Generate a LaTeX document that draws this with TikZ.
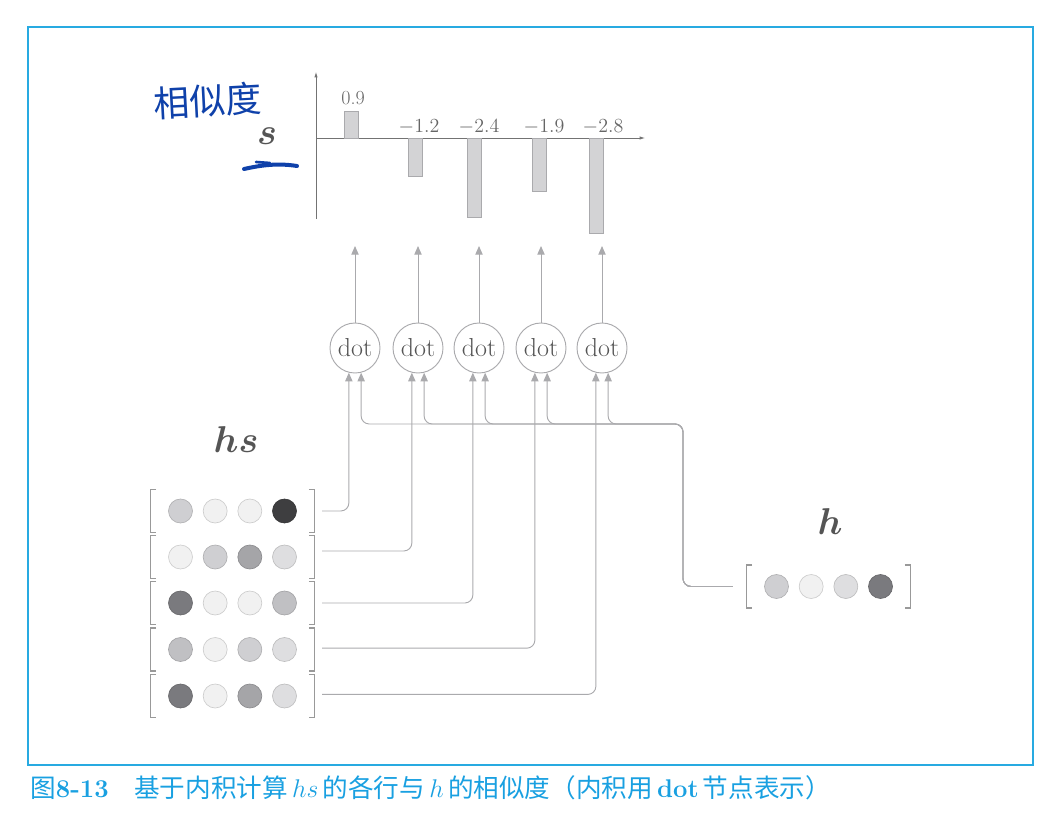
\RequirePackage{fix-cm}
\documentclass[tikz,border=0pt]{standalone}
\usepackage{fontspec}
\usepackage{bm}
\newfontfamily\cjk{Noto Sans CJK SC}
\usetikzlibrary{arrows.meta}
\definecolor{frame}{RGB}{40,170,225}
\definecolor{cap}{RGB}{25,160,225}
\definecolor{ln}{RGB}{170,170,173}
\definecolor{txt}{RGB}{85,85,85}
\definecolor{hand}{RGB}{15,65,170}
\definecolor{ca}{RGB}{241,241,241}
\definecolor{cb}{RGB}{222,222,224}
\definecolor{cc}{RGB}{207,207,210}
\definecolor{cd}{RGB}{192,192,195}
\definecolor{ce}{RGB}{165,165,168}
\definecolor{cf}{RGB}{122,122,126}
\definecolor{cg}{RGB}{62,62,64}
\begin{document}
\begin{tikzpicture}[x=0.75pt,y=-0.75pt,
  conn/.style={draw=ln, line width=0.7pt, rounded corners=6pt},
  arr/.style={conn, -{Triangle[length=6.5pt,width=5.5pt]}},
  dotnode/.style={circle, draw=ln, line width=0.7pt, minimum size=37.5pt, inner sep=0pt, font=\fontsize{19.5}{22}\selectfont, text=txt},
  cell/.style={circle, minimum size=18pt, inner sep=0pt, line width=0.5pt},
  vecbox/.style={minimum width=123pt, minimum height=32pt, inner sep=0pt},
  brk/.style={draw=black!40, line width=1pt},
  bar/.style={fill=cb!95!black, draw=ln, line width=0.6pt},
  axis/.style={draw=black!55, line width=0.5pt, -{Latex[length=4pt,width=2.5pt]}},
  val/.style={font=\fontsize{15}{17}\selectfont, text=black!60},
  big/.style={font=\fontsize{28}{32}\selectfont, text=txt}
]
\useasboundingbox (0,0) rectangle (1056,817);
\draw[frame, line width=0.8pt] (28,27) rectangle (1033,765);

% handwritten annotation
\node[font=\cjk\fontsize{27}{30}\selectfont, text=hand, rotate=3] (hw) at (208,101) {相似度};
\draw[hand, line width=3pt, line cap=round] (244,169) .. controls (262,165) and (278,163) .. (297,166);
\draw[hand, line width=2pt, line cap=round] (256,162) -- (270,163);

% bar chart
\draw[axis] (316,219) -- (316,72);
\draw[axis] (316,138) -- (645,138);
\draw[bar] (344,111) rectangle (358,138);
\draw[bar] (408,138) rectangle (422,176);
\draw[bar] (467,138) rectangle (481,217);
\draw[bar] (532,138) rectangle (546,191);
\draw[bar] (589,138) rectangle (603,233);
\node[val] (v1) at (353,98) {0.9};
\node[val] (v2) at (419,127) {$-1.2$};
\node[val] (v3) at (479,127) {$-2.4$};
\node[val] (v4) at (544,127) {$-1.9$};
\node[val] (v5) at (603,127) {$-2.8$};
\node[big] (s) at (267,136) {$\bm{s}$};

% dot nodes
\foreach \i/\x in {1/355,2/418,3/479,4/541,5/602}{
  \node[dotnode] (d\i) at (\x,348) {dot};
  \coordinate (t\i) at (\x,246);
  \draw[arr] (d\i) -- (t\i);
}

% hs matrix
\node[big] (hs) at (236,440) {$\bm{hs}$};
\foreach \i/\y/\a/\b/\c/\d in {1/511/cc/ca/ca/cg,2/557/ca/cc/ce/cb,3/603/cf/ca/ca/cd,4/649.5/cd/ca/cc/cb,5/696/cf/ca/ce/cb}{
  \node[vecbox] (r\i) at (232.5,\y) {};
  \draw[brk] ([xshift=4.5pt]r\i.north west) -- (r\i.north west) -- (r\i.south west) -- ([xshift=4.5pt]r\i.south west);
  \draw[brk] ([xshift=-4.5pt]r\i.north east) -- (r\i.north east) -- (r\i.south east) -- ([xshift=-4.5pt]r\i.south east);
  \node[cell, fill=\a, draw=\a!85!black] (r\i-1) at ([xshift=-39pt]r\i.center) {};
  \node[cell, fill=\b, draw=\b!85!black] (r\i-2) at ([xshift=-13pt]r\i.center) {};
  \node[cell, fill=\c, draw=\c!85!black] (r\i-3) at ([xshift=13pt]r\i.center) {};
  \node[cell, fill=\d, draw=\d!85!black] (r\i-4) at ([xshift=39pt]r\i.center) {};
}
\draw[arr] ([xshift=5.5pt]r1.east) -| (d1.256);
\draw[arr] ([xshift=5.5pt,yshift=4.5pt]r2.east) -| (d2.256);
\draw[arr] ([xshift=5.5pt]r3.east) -| (d3.256);
\draw[arr] ([xshift=5.5pt,yshift=1pt]r4.east) -| (d4.256);
\draw[arr] ([xshift=5.5pt,yshift=1.2pt]r5.east) -| (d5.256);

% h vector
\node[big] (hl) at (830,522) {$\bm{h}$};
\node[vecbox] (hv) at (828.5,586.5) {};
\draw[brk] ([xshift=4.5pt]hv.north west) -- (hv.north west) -- (hv.south west) -- ([xshift=4.5pt]hv.south west);
\draw[brk] ([xshift=-4.5pt]hv.north east) -- (hv.north east) -- (hv.south east) -- ([xshift=-4.5pt]hv.south east);
\node[cell, fill=cc, draw=cc!85!black] (h1) at ([xshift=-39pt]hv.center) {};
\node[cell, fill=ca, draw=ca!85!black] (h2) at ([xshift=-13pt]hv.center) {};
\node[cell, fill=cb, draw=cb!85!black] (h3) at ([xshift=13pt]hv.center) {};
\node[cell, fill=cf, draw=cf!85!black] (h4) at ([xshift=39pt]hv.center) {};
\coordinate (hb) at (683,424);
\foreach \i in {1,...,5}{
  \draw[arr] ([xshift=-10pt]hv.west) -| (hb) -| (d\i.284);
}

% caption
\node[anchor=base west, text=cap, inner sep=0pt, font=\cjk\fontsize{19.2}{21}\selectfont] (cap) at (30,797)
  {图{\rmfamily\bfseries 8-13}\quad 基于内积计算\,$hs$\,的各行与\,$h$\,的相似度（内积用\,{\rmfamily\bfseries dot}\,节点表示）};
\end{tikzpicture}
\end{document}
